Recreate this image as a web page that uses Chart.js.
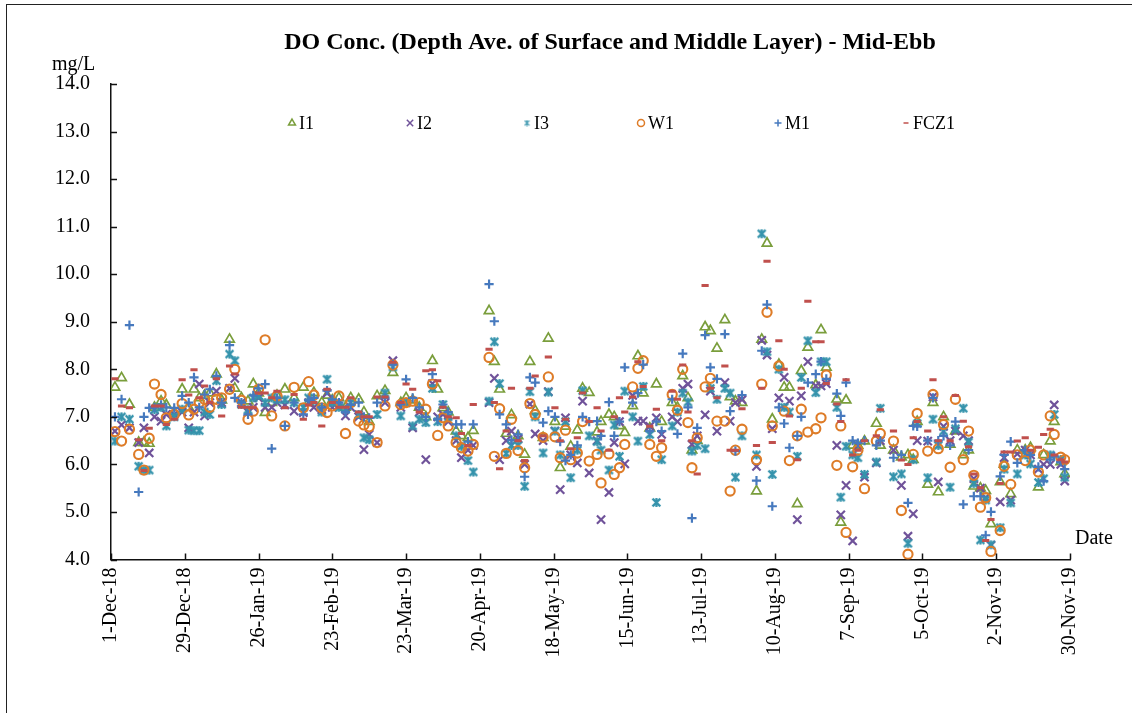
<!DOCTYPE html>
<html>
<head>
<meta charset="utf-8">
<title>DO Conc. - Mid-Ebb</title>
<script src="https://cdn.jsdelivr.net/npm/chart.js@4.4.1/dist/chart.umd.min.js"></script>
<style>
  html, body { margin: 0; padding: 0; background: #fff; overflow: hidden; }
  #frame { position: absolute; left: 6px; top: 4px; width: 1300px; height: 900px; border-left: 1.5px solid #222; border-top: 1.5px solid #222; }
  canvas { position: absolute; left: 0; top: 0; }
</style>
</head>
<body>
<div id="frame"></div>
<canvas id="doChart" width="1132" height="713"></canvas>
<script>
// sampling days, counted from 1-Dec-18
var sampleDay = [
  1.5, 4, 7, 10.5, 12.5, 14.5, 16.5, 19, 21, 24,
  27, 29.5, 31.5, 33.5, 35.5, 37.5, 40, 42, 45, 47,
  49.5, 52, 54, 56, 58.5, 61, 63, 66, 69.5, 73,
  75, 77, 80, 82, 84, 86.5, 89, 91, 94, 96,
  98, 101, 104, 107, 110, 112, 114.5, 117, 119.5, 122,
  124, 126, 128, 131, 133, 135.5, 137.5, 143.5, 145.5, 147.5,
  150, 152, 154.5, 157, 159, 161, 164, 166, 168.5, 170.5,
  172.5, 174.5, 177, 179, 181.5, 184.5, 186, 189, 191, 193,
  195, 198, 200, 202, 204.5, 207, 209, 213, 215, 217,
  219, 220.5, 222.5, 225.5, 227.5, 230, 233, 235, 237, 239.5,
  245, 247, 249, 251, 253.5, 255.5, 257.5, 260.5, 262, 264.5,
  267.5, 269.5, 271.5, 275.5, 277, 279, 281.5, 283.5, 286, 290.5,
  292, 297, 300, 302.5, 304.5, 306, 310, 312, 314, 316,
  318.5, 320.5, 323.5, 325.5, 327.5, 330, 332, 334, 337.5, 339,
  341.5, 344, 347, 349, 352, 354, 356.5, 358, 360.5, 362
];

var i1 = [
  7.62, 7.82, 7.26, 6.46, 6.46, 6.44, 7.2, 7.33, 7.25, 7.1,
  7.58, 7.2, 7.58, 7.4, 7.45, 7.5, 7.9, 7.35, 8.63, 7.6,
  7.4, 7.33, 7.69, 7.5, 7.09, 7.3, 7.45, 7.58, 7.4, 7.62,
  7.3, 7.51, 7.3, 7.45, 7.35, 7.4, 7.2, 7.4, 7.37, 7.1,
  6.9, 7.44, 7.55, 7.93, 7.3, 7.4, 7.35, 7.2, 7.0, 8.18,
  7.58, 7.19, 7.1, 6.7, 6.6, 6.56, 6.71, 9.23, 8.16, 7.58,
  6.65, 7.04, 6.6, 6.21, 8.16, 7.13, 6.56, 8.65, 6.9, 5.93,
  6.8, 6.38, 6.72, 7.6, 7.51, 6.68, 6.9, 7.05, 7.0, 6.81,
  6.67, 7.23, 8.28, 7.5, 6.76, 7.69, 6.9, 7.3, 7.2, 7.86,
  7.4, 6.3, 6.5, 8.89, 8.81, 8.44, 9.04, 7.42, 7.33, 7.3,
  5.44, 8.63, 10.65, 6.95, 8.1, 7.62, 7.62, 5.17, 7.97, 8.46,
  7.67, 8.83, 8.04, 7.37, 4.78, 7.35, 6.4, 6.4, 6.49, 6.86,
  6.4, 6.3, 6.15, 6.2, 6.1, 6.9, 5.58, 7.3, 5.42, 7.0,
  6.42, 6.7, 6.2, 6.3, 5.54, 5.5, 5.45, 4.75, 5.63, 6.0,
  5.38, 6.3, 6.3, 6.35, 5.52, 6.2, 6.49, 6.9, 6.05, 5.8
];
var i2 = [
  6.7, 6.83, 6.77, 6.46, 6.77, 6.24, 7.0, 6.91, 7.05, 7.05,
  7.1, 6.77, 7.1, 7.69, 7.02, 7.3, 7.54, 7.3, 7.6, 7.81,
  7.3, 7.1, 7.2, 7.4, 7.2, 7.2, 7.3, 7.25, 7.12, 7.09,
  7.3, 7.2, 7.15, 7.5, 7.2, 7.3, 7.02, 7.2, 7.0, 6.31,
  6.63, 6.46, 7.3, 8.18, 7.2, 7.3, 6.77, 7.1, 6.1, 7.7,
  7.0, 7.05, 6.9, 6.5, 6.14, 6.3, 6.4, 7.3, 7.81, 6.1,
  6.5, 6.7, 6.54, 6.0, 7.27, 6.64, 6.5, 7.53, 6.7, 5.47,
  6.98, 6.2, 6.03, 7.33, 5.82, 6.5, 4.84, 5.41, 6.46, 6.9,
  6.01, 7.45, 6.91, 6.91, 6.8, 6.98, 6.63, 7.0, 6.9, 7.6,
  7.69, 6.42, 6.6, 7.04, 7.54, 6.7, 7.72, 6.91, 7.3, 7.36,
  5.96, 8.61, 8.3, 6.75, 7.4, 7.83, 7.33, 4.84, 7.44, 8.16,
  7.65, 7.65, 7.7, 6.4, 4.94, 5.56, 4.39, 6.4, 5.73, 6.03,
  6.5, 6.3, 5.56, 4.49, 4.96, 6.5, 6.49, 7.42, 5.63, 6.8,
  6.5, 6.7, 6.6, 6.5, 5.7, 5.5, 5.3, 4.3, 5.21, 6.14,
  5.25, 6.22, 6.3, 6.2, 5.9, 6.0, 6.0, 7.25, 6.0, 5.65
];
var i3 = [
  6.49, 7.0, 6.95, 5.96, 5.88, 5.88, 7.15, 7.2, 6.81, 7.0,
  7.16, 6.72, 6.71, 6.71, 7.1, 7.05, 7.76, 7.26, 8.32, 8.18,
  7.26, 7.15, 7.4, 7.45, 7.3, 7.4, 7.36, 7.36, 7.3, 7.2,
  7.4, 7.35, 7.1, 7.79, 7.3, 7.2, 7.16, 7.3, 7.05, 6.56,
  6.52, 7.05, 7.5, 8.05, 7.02, 7.3, 6.81, 6.95, 6.88, 7.6,
  6.9, 7.26, 7.0, 6.6, 6.38, 6.08, 5.84, 7.33, 8.58, 7.7,
  6.23, 6.4, 6.4, 5.54, 7.53, 7.0, 6.24, 7.52, 6.7, 6.2,
  6.9, 5.72, 6.3, 7.55, 6.6, 6.48, 6.3, 5.88, 6.83, 6.17,
  7.54, 7.0, 6.49, 7.64, 6.63, 5.2, 6.1, 6.81, 7.1, 7.5,
  7.31, 6.28, 6.4, 6.33, 7.6, 7.37, 7.6, 7.5, 5.73, 6.6,
  6.2, 10.85, 8.37, 5.79, 8.0, 7.2, 7.1, 6.17, 7.83, 8.6,
  7.51, 8.16, 8.16, 7.2, 5.31, 6.38, 6.2, 6.14, 5.79, 6.05,
  7.18, 5.74, 5.8, 4.34, 6.1, 6.86, 5.72, 6.95, 6.4, 6.7,
  5.52, 6.75, 7.18, 6.47, 5.6, 4.41, 5.25, 4.31, 4.67, 5.9,
  5.19, 5.8, 6.2, 6.01, 5.62, 5.7, 6.2, 7.05, 6.1, 5.73
];
var w1 = [
  6.69, 6.49, 6.74, 6.21, 5.88, 6.55, 7.69, 7.47, 6.98, 7.05,
  7.28, 7.04, 7.16, 7.3, 7.37, 7.2, 7.37, 7.4, 7.58, 8.0,
  7.35, 6.95, 7.12, 7.58, 8.62, 7.02, 7.44, 6.81, 7.62, 7.19,
  7.74, 7.46, 7.19, 7.09, 7.23, 7.44, 6.65, 7.3, 6.91, 6.83,
  6.79, 6.46, 7.23, 8.09, 7.26, 7.3, 7.33, 7.3, 7.16, 7.69,
  6.61, 6.98, 6.81, 6.46, 6.35, 6.28, 6.42, 8.25, 6.17, 7.17,
  6.23, 6.95, 6.29, 5.93, 7.28, 7.05, 6.57, 7.84, 6.58, 6.14,
  6.72, 6.1, 6.24, 6.9, 6.07, 6.21, 5.61, 6.22, 5.79, 5.93,
  6.42, 7.63, 8.02, 8.18, 6.42, 6.17, 6.35, 7.47, 7.14, 8.0,
  6.88, 5.93, 6.56, 7.63, 7.81, 6.91, 6.91, 5.44, 6.3, 6.74,
  6.1, 7.69, 9.2, 6.81, 8.07, 7.12, 6.08, 6.6, 7.16, 6.68,
  6.75, 6.98, 7.88, 5.98, 6.81, 4.57, 5.95, 6.3, 5.49, 6.49,
  6.65, 6.49, 5.03, 4.11, 6.21, 7.07, 6.28, 7.47, 6.33, 6.84,
  5.94, 7.37, 6.1, 6.7, 5.77, 5.1, 5.3, 4.17, 4.61, 5.96,
  5.58, 6.2, 6.08, 6.3, 5.84, 6.2, 7.02, 6.63, 6.15, 6.1
];
var m1 = [
  7.0, 7.37, 8.93, 5.42, 7.0, 7.19, 7.2, 7.25, 7.2, 7.19,
  7.44, 7.3, 7.83, 7.2, 7.47, 7.58, 7.86, 7.3, 8.51, 7.4,
  7.3, 7.05, 7.45, 7.6, 7.69, 6.33, 7.4, 6.81, 7.3, 7.05,
  7.35, 7.4, 7.2, 7.55, 7.37, 7.3, 7.1, 7.25, 7.3, 7.0,
  6.98, 7.3, 7.4, 8.1, 7.26, 7.79, 7.4, 7.2, 7.0, 7.9,
  6.95, 7.26, 7.1, 6.84, 6.84, 6.48, 6.84, 9.79, 9.01, 7.05,
  6.84, 6.51, 6.63, 5.74, 7.83, 7.72, 6.88, 7.12, 7.0, 6.48,
  6.08, 6.2, 6.4, 7.0, 6.9, 6.91, 6.6, 7.31, 6.6, 6.9,
  8.04, 7.3, 7.5, 8.1, 6.7, 6.9, 6.7, 7.37, 6.64, 8.33,
  7.2, 4.87, 6.77, 8.72, 8.04, 7.8, 8.74, 7.12, 6.28, 7.46,
  5.66, 8.39, 9.36, 5.12, 7.2, 6.86, 6.35, 6.6, 7.0, 7.72,
  7.9, 8.16, 7.8, 7.49, 7.02, 7.72, 6.5, 6.45, 6.5, 6.4,
  6.5, 6.14, 6.2, 5.19, 6.81, 6.8, 6.5, 7.4, 6.5, 6.6,
  6.4, 6.9, 5.16, 6.3, 5.33, 5.33, 4.51, 5.0, 5.75, 6.2,
  6.48, 6.03, 6.3, 6.2, 5.95, 5.65, 6.1, 6.17, 6.05, 5.9
];
var fcz1 = [
  7.8, 7.23, 7.19, 6.52, 5.87, 6.76, 7.23, 7.23, 6.84, 6.95,
  7.78, 7.46, 7.99, 7.4, 7.65, 7.3, 7.8, 7.02, 8.07, 7.9,
  7.2, 7.2, 7.19, 7.5, 7.5, 7.4, 7.54, 7.19, 7.47, 6.95,
  7.25, 7.3, 6.81, 7.58, 7.3, 7.2, 7.2, 7.4, 7.1, 7.0,
  7.0, 7.42, 7.42, 8.15, 7.3, 7.69, 7.58, 7.1, 7.97, 7.99,
  7.76, 7.2, 7.0, 6.98, 6.65, 6.4, 7.26, 8.42, 7.3, 5.91,
  6.7, 7.6, 6.5, 6.08, 7.6, 7.86, 6.6, 8.26, 7.19, 6.5,
  6.95, 6.33, 6.56, 7.5, 6.9, 7.19, 6.7, 6.3, 7.0, 7.4,
  7.1, 7.42, 8.16, 7.64, 6.8, 7.16, 6.5, 7.54, 7.37, 8.09,
  7.1, 6.5, 5.8, 9.76, 7.6, 7.4, 8.07, 6.3, 6.3, 7.17,
  6.4, 7.6, 10.27, 6.46, 8.6, 8.0, 7.02, 6.1, 7.6, 9.43,
  8.58, 8.58, 7.7, 7.27, 6.9, 7.78, 6.2, 6.3, 6.5, 6.6,
  7.15, 6.7, 6.09, 6.0, 6.56, 6.9, 6.7, 7.78, 6.5, 7.0,
  6.5, 7.45, 6.91, 6.37, 5.8, 5.51, 4.4, 4.84, 5.6, 6.26,
  6.26, 6.49, 6.56, 6.3, 6.36, 6.63, 6.74, 6.2, 6.1, 6.05
];

var seriesNames = ['I1', 'I2', 'I3', 'W1', 'M1', 'FCZ1'];
var seriesValues = [i1, i2, i3, w1, m1, fcz1];
var tickLabels = ['1-Dec-18', '29-Dec-18', '26-Jan-19', '23-Feb-19', '23-Mar-19', '20-Apr-19', '18-May-19',
  '15-Jun-19', '13-Jul-19', '10-Aug-19', '7-Sep-19', '5-Oct-19', '2-Nov-19', '30-Nov-19'];
var tickStep = 28;
var chartTitle = 'DO Conc. (Depth Ave. of Surface and Middle Layer) - Mid-Ebb';

var serif = '"Liberation Serif", "Times New Roman", serif';

// excel style star marker (x with a vertical bar)
function starMarker(size, lw, color) {
  var c = document.createElement('canvas');
  c.width = size; c.height = size;
  var g = c.getContext('2d');
  g.strokeStyle = color;
  g.lineWidth = lw;
  var m = lw / 2 + 0.5, e = size - m;
  g.beginPath();
  g.moveTo(m, m); g.lineTo(e, e);
  g.moveTo(e, m); g.lineTo(m, e);
  g.moveTo(size / 2, m - 0.5); g.lineTo(size / 2, e + 0.5);
  g.stroke();
  return c;
}

var colors = ['#7A9E3C', '#70539A', '#3593AC', '#DE7C28', '#4679BE', '#C0504D'];
var styles = [
  { pointStyle: 'triangle', radius: 5.5, width: 1.7 },
  { pointStyle: 'crossRot', radius: 5.8, width: 2.2 },
  { pointStyle: starMarker(11, 2.2, colors[2]), radius: 5, width: 2 },
  { pointStyle: 'circle', radius: 4.6, width: 2.1 },
  { pointStyle: 'cross', radius: 4.6, width: 2.2 },
  { pointStyle: 'line', radius: 3.6, width: 3 }
];
var legendStyles = [
  { pointStyle: 'triangle', radius: 4, width: 1.1 },
  { pointStyle: 'crossRot', radius: 4.5, width: 1.2 },
  { pointStyle: starMarker(7, 1.2, colors[2]), radius: 3.5, width: 1.2 },
  { pointStyle: 'circle', radius: 3.5, width: 1.2 },
  { pointStyle: 'cross', radius: 3.5, width: 1.2 },
  { pointStyle: 'line', radius: 2.5, width: 2.5 }
];
var legendX = [292, 410, 527, 641, 778, 906];

var datasets = seriesNames.map(function(name, k) {
  return {
    label: name,
    data: sampleDay.map(function(d, i) { return { x: d, y: seriesValues[k][i] }; }),
    showLine: false,
    order: seriesNames.length - k,
    pointStyle: styles[k].pointStyle,
    pointRadius: styles[k].radius,
    pointBorderWidth: styles[k].width,
    pointBorderColor: colors[k],
    pointBackgroundColor: 'rgba(0,0,0,0)'
  };
});

var decorPlugin = {
  id: 'decor',
  afterDraw: function(chart) {
    var ctx = chart.ctx, xs = chart.scales.x, ys = chart.scales.y, a = chart.chartArea;
    ctx.save();
    // inward tick marks
    ctx.strokeStyle = '#111';
    ctx.lineWidth = 1.5;
    ctx.beginPath();
    ys.ticks.forEach(function(t, i) {
      var y = Math.round(ys.getPixelForTick(i)) + 0.5;
      ctx.moveTo(a.left, y); ctx.lineTo(a.left + 6, y);
    });
    xs.ticks.forEach(function(t, i) {
      var x = Math.round(xs.getPixelForTick(i)) + 0.5;
      ctx.moveTo(x, a.bottom); ctx.lineTo(x, a.bottom - 6);
    });
    ctx.stroke();

    ctx.fillStyle = '#000';
    ctx.font = 'bold 24px ' + serif;
    ctx.textAlign = 'center';
    ctx.textBaseline = 'alphabetic';
    ctx.fillText(chartTitle, 610, 49);

    ctx.font = '20px ' + serif;
    ctx.textAlign = 'left';
    ctx.fillText('mg/L', 52, 70);
    ctx.fillText('Date', 1075, 544);

    // legend inside the plot
    var ly = 123;
    ctx.font = '18px ' + serif;
    ctx.textBaseline = 'middle';
    seriesNames.forEach(function(name, k) {
      var st = legendStyles[k];
      ctx.strokeStyle = colors[k];
      ctx.fillStyle = 'rgba(0,0,0,0)';
      if (typeof st.pointStyle === 'string') {
        Chart.helpers.drawPoint(ctx, { pointStyle: st.pointStyle, radius: st.radius, borderWidth: st.width, rotation: 0 }, legendX[k], ly);
      } else {
        ctx.drawImage(st.pointStyle, legendX[k] - 3.5, ly - 3.5, 7, 7);
      }
      ctx.fillStyle = '#000';
      ctx.fillText(name, legendX[k] + 7, ly + 1);
    });
    ctx.restore();
  }
};

new Chart(document.getElementById('doChart'), {
  type: 'scatter',
  data: { datasets: datasets },
  options: {
    responsive: false,
    animation: false,
    devicePixelRatio: 1,
    events: [],
    layout: { padding: { left: 0, top: 84, right: 62, bottom: 0 } },
    plugins: {
      legend: { display: false },
      title: { display: false },
      tooltip: { enabled: false }
    },
    scales: {
      x: {
        type: 'linear',
        min: 0,
        max: tickStep * (tickLabels.length - 1),
        afterBuildTicks: function(s) {
          s.ticks = tickLabels.map(function(l, i) { return { value: i * tickStep }; });
        },
        afterFit: function(s) { s.height = 153.5; },
        grid: { display: true, drawOnChartArea: false, drawTicks: false },
        border: { display: true, color: '#111', width: 1.5 },
        ticks: {
          autoSkip: false,
          maxRotation: 90,
          minRotation: 90,
          padding: 8,
          color: '#000',
          font: { family: serif, size: 20 },
          callback: function(v) { return tickLabels[Math.round(v / tickStep)]; }
        }
      },
      y: {
        min: 4,
        max: 14,
        afterFit: function(s) { s.width = 111; },
        grid: { display: true, drawOnChartArea: false, drawTicks: false },
        border: { display: true, color: '#111', width: 1.5 },
        ticks: {
          stepSize: 1,
          padding: 21,
          color: '#000',
          font: { family: serif, size: 20 },
          callback: function(v) { return v.toFixed(1); }
        }
      }
    }
  },
  plugins: [decorPlugin]
});
</script>
</body>
</html>
